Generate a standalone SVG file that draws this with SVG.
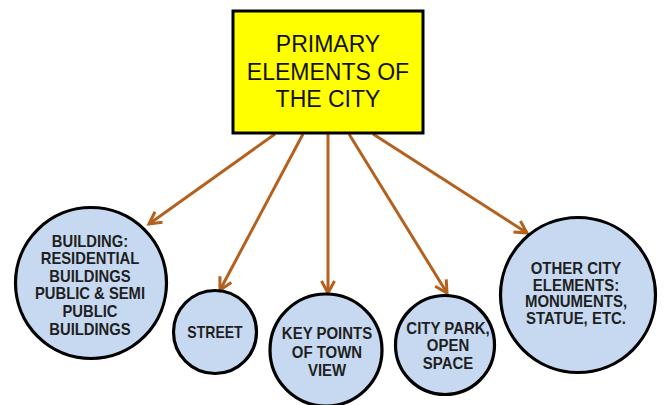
<svg xmlns="http://www.w3.org/2000/svg" width="664" height="405" viewBox="0 0 664 405">
<style>
.box{fill:#FFFF00;stroke:#000;stroke-width:3}
.c{fill:#C6D9F1;stroke:#000;stroke-width:3.2}
.t{font-family:"Liberation Sans",Arial,sans-serif;font-size:23px;fill:#111;text-anchor:middle}
.s{font-family:"Liberation Sans",Arial,sans-serif;font-size:17px;font-weight:bold;fill:#1f1f1f;text-anchor:middle}
.e{stroke:#B4611E;stroke-width:3;fill:none;marker-end:url(#ah)}
</style>
<defs>
<marker id="ah" markerUnits="userSpaceOnUse" markerWidth="18" markerHeight="18" refX="14" refY="8" orient="auto" viewBox="0 0 18 16">
<path d="M2,1.5 L14,8 L2,14.5" fill="none" stroke="#B4611E" stroke-width="3" stroke-linejoin="miter"/>
</marker>
</defs>
<rect width="664" height="405" fill="#fff"/>
<g id="connectors">
<line class="e" x1="275" y1="134" x2="149" y2="224"/>
<line class="e" x1="303" y1="134" x2="220" y2="290"/>
<line class="e" x1="328" y1="134" x2="328" y2="293"/>
<line class="e" x1="349" y1="134" x2="447" y2="293"/>
<line class="e" x1="373" y1="134" x2="527" y2="233"/>
</g>
<g id="primary">
<rect class="box" x="233" y="11" width="190" height="122"/>
<text class="t" x="328" y="52">PRIMARY</text>
<text class="t" x="328" y="80">ELEMENTS OF</text>
<text class="t" x="328" y="107">THE CITY</text>
</g>
<g id="building">
<circle class="c" cx="91" cy="283" r="75.5"/>
<g transform="translate(90,0) scale(0.87,1)">
<text class="s" x="0" y="247">BUILDING:</text>
<text class="s" x="0" y="264.5">RESIDENTIAL</text>
<text class="s" x="0" y="282">BUILDINGS</text>
<text class="s" x="0" y="299.5">PUBLIC &amp; SEMI</text>
<text class="s" x="0" y="317">PUBLIC</text>
<text class="s" x="0" y="335">BUILDINGS</text>
</g>
</g>
<g id="street">
<circle class="c" cx="215" cy="332" r="41.5"/>
<g transform="translate(215,0) scale(0.85,1)">
<text class="s" x="0" y="338" style="font-size:16.5px">STREET</text>
</g>
</g>
<g id="keypoints">
<circle class="c" cx="326" cy="350" r="56"/>
<g transform="translate(327,0) scale(0.88,1)">
<text class="s" x="0" y="339">KEY POINTS</text>
<text class="s" x="0" y="358">OF TOWN</text>
<text class="s" x="0" y="376.5">VIEW</text>
</g>
</g>
<g id="citypark">
<circle class="c" cx="445" cy="345" r="49.5"/>
<g transform="translate(448,0) scale(0.88,1)">
<text class="s" x="0" y="334">CITY PARK,</text>
<text class="s" x="0" y="351.5">OPEN</text>
<text class="s" x="0" y="369">SPACE</text>
</g>
</g>
<g id="other">
<circle class="c" cx="578" cy="295" r="77.5"/>
<g transform="translate(576,0) scale(0.88,1)">
<text class="s" x="0" y="274">OTHER CITY</text>
<text class="s" x="0" y="291">ELEMENTS:</text>
<text class="s" x="0" y="307.5">MONUMENTS,</text>
<text class="s" x="0" y="324">STATUE, ETC.</text>
</g>
</g>
</svg>
